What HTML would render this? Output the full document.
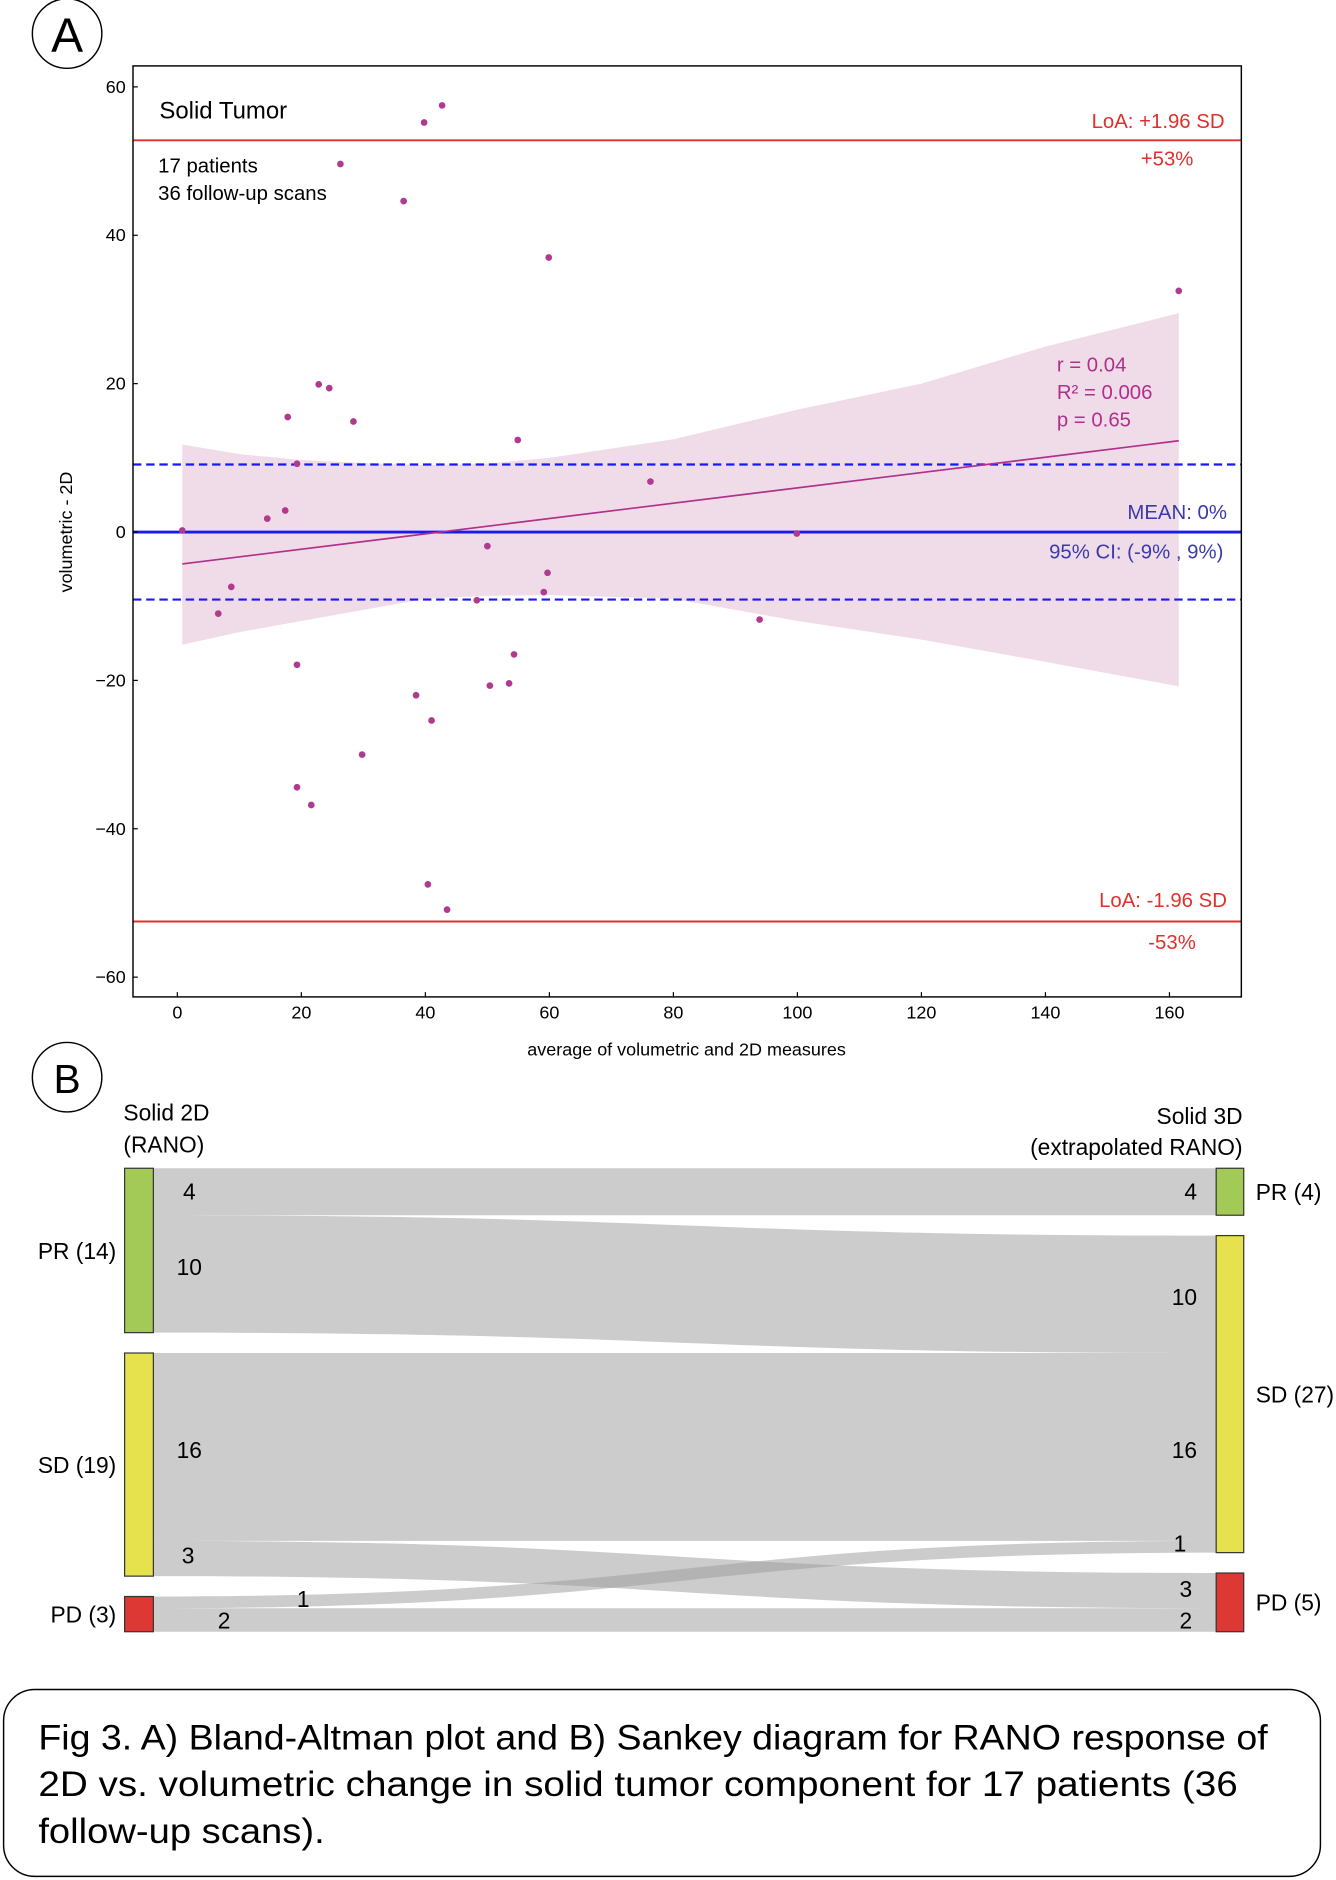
<!DOCTYPE html>
<html><head><meta charset="utf-8"><style>
html,body{margin:0;padding:0;background:#fff}
svg{display:block}
text{font-family:"Liberation Sans","DejaVu Sans",sans-serif}
</style></head><body>
<svg id="fig" width="1336" height="1880" viewBox="0 0 1115 1569" xmlns="http://www.w3.org/2000/svg">
<g><circle cx="56" cy="28" r="29" fill="#fff" stroke="#000" stroke-width="1.2"/><text x="56" y="43" font-size="40" text-anchor="middle">A</text></g>
<g id="plotA"></g>
<g><circle cx="56" cy="899" r="29" fill="#fff" stroke="#000" stroke-width="1.2"/><text x="56" y="912" font-size="34" text-anchor="middle">B</text></g>
<g id="sankey"></g>
<g>
<rect x="3" y="1410" width="1099" height="156" rx="26" fill="#fff" stroke="#000" stroke-width="1.2"/>
<text x="32" y="1460" font-size="29" textLength="1026" lengthAdjust="spacingAndGlyphs">Fig 3. A) Bland-Altman plot and B) Sankey diagram for RANO response of</text>
<text x="32" y="1499" font-size="29" textLength="1001" lengthAdjust="spacingAndGlyphs">2D vs. volumetric change in solid tumor component for 17 patients (36</text>
<text x="32" y="1538" font-size="29" textLength="239" lengthAdjust="spacingAndGlyphs">follow-up scans).</text>
</g>
</svg>
<script>
const ptX=[0.8,6.6,8.7,14.5,17.4,17.8,19.3,19.3,19.3,21.6,22.8,24.5,26.3,28.4,29.8,36.5,38.5,39.8,40.4,41,42.7,43.5,48.3,50,50.4,53.5,54.3,54.9,59.1,59.7,59.9,76.3,93.9,99.9,161.5];
const ptY=[0.2,-11,-7.4,1.8,2.9,15.5,9.2,-17.9,-34.4,-36.8,19.9,19.4,49.6,14.9,-30,44.6,-22,55.2,-47.5,-25.4,57.5,-50.9,-9.2,-1.9,-20.7,-20.4,-16.5,12.4,-8.1,-5.5,37,6.8,-11.8,-0.2,32.5];
const bandX=[0.8,10,20,30,40,50,60,80,100,120,140,161.5];
const bandUp=[11.8,10.5,9.7,9.3,9,9.2,10,12.5,16.5,20,25,29.5];
const bandLo=[-15.2,-13.5,-12,-10.5,-9,-8.6,-8.5,-9,-12,-14.5,-17.5,-20.8];
const fitX=[0.8,161.5];
const fitY=[-4.3,12.3];
const xTicks=[0,20,40,60,80,100,120,140,160];
const yTicks=[60,40,20,0,-20,-40,-60];
const loaUp=52.8, loaLo=-52.5, meanV=0, ciUp=9.1, ciLo=-9.1;

const flowSrc=["PR","PR","SD","SD","PD","PD"];
const flowDst=["PR","SD","SD","PD","SD","PD"];
const flowVal=[4,10,16,3,1,2];
const nodeNames=["PR","SD","PD"];
const leftCounts=[14,19,3];
const rightCounts=[4,27,5];

const NS="http://www.w3.org/2000/svg";
function mk(parent,tag,attrs,txt){const e=document.createElementNS(NS,tag);for(const k in attrs)e.setAttribute(k,attrs[k]);if(txt!==undefined)e.textContent=txt;parent.appendChild(e);return e;}
const X0=111,X1=1036,Y0=55,Y1=832;
const xs=v=>148+v*(828/160);
const ys=v=>444-v*(743/120);
const A=document.getElementById('plotA');
let d="M"+bandX.map((x,i)=>xs(x)+","+ys(bandUp[i])).join(" L");
d+=" L"+bandX.slice().reverse().map((x,i)=>xs(x)+","+ys(bandLo[bandX.length-1-i])).join(" L")+" Z";
let band=mk(A,'path',{d:d,fill:'#f0dce9'});


function hline(v,col,w,dash,name){let l=mk(A,'line',{x1:X0,x2:X1,y1:ys(v),y2:ys(v),stroke:col,'stroke-width':w});if(dash)l.setAttribute('stroke-dasharray',dash);

}
hline(loaUp,'#e0302c',1.6,null,'loa-upper-line');
hline(loaLo,'#e0302c',1.6,null,'loa-lower-line');
hline(ciUp,'#1a1aee',1.8,'7,4','ci-upper-line');
hline(ciLo,'#1a1aee',1.8,'7,4','ci-lower-line');
hline(meanV,'#1a1aee',2.4,null,'mean-line');
let fit=mk(A,'line',{x1:xs(fitX[0]),y1:ys(fitY[0]),x2:xs(fitX[1]),y2:ys(fitY[1]),stroke:'#b0308a','stroke-width':1.4});


ptX.forEach((x,i)=>{let c=mk(A,'circle',{cx:xs(x),cy:ys(ptY[i]),r:2.8,fill:'#b03a90'});

});
mk(A,'rect',{x:X0,y:Y0,width:X1-X0,height:Y1-Y0,fill:'none',stroke:'#000','stroke-width':1.2});
xTicks.forEach(t=>{mk(A,'line',{x1:xs(t),x2:xs(t),y1:Y1,y2:Y1-4,stroke:'#000'});let tx=mk(A,'text',{x:xs(t),y:Y1+18,'font-size':15,'text-anchor':'middle','font-family':'DejaVu Sans'},String(t));

});
yTicks.forEach(t=>{mk(A,'line',{x1:X0,x2:X0+4,y1:ys(t),y2:ys(t),stroke:'#000'});let tx=mk(A,'text',{x:X0-6,y:ys(t)+5,'font-size':15,'text-anchor':'end','font-family':'DejaVu Sans'},t<0?"\u2212"+(-t):String(t));

});
let xt=mk(A,'text',{x:573,y:881,'font-size':15,'text-anchor':'middle','font-family':'DejaVu Sans'},'average of volumetric and 2D measures');


let yt=mk(A,'text',{x:0,y:0,'font-size':15,'text-anchor':'middle','font-family':'DejaVu Sans',transform:'translate(60,444) rotate(-90)'},'volumetric - 2D');


const ann=[[133,99,20,'#000','start','Solid Tumor'],[132,144,17,'#000','start','17 patients'],[132,167,17,'#000','start','36 follow-up scans'],
[1022,107,17,'#e0302c','end','LoA: +1.96 SD'],[996,138,17,'#e0302c','end','+53%'],[1024,757,17,'#e0302c','end','LoA: -1.96 SD'],[998,792,17,'#e0302c','end','-53%'],
[1024,433,17,'#3a3aa8','end','MEAN: 0%'],[1021,466,17,'#3a3aa8','end','95% CI: (-9% , 9%)'],
[882,310,17,'#b0308a','start','r = 0.04'],[882,333,17,'#b0308a','start','R\u00b2 = 0.006'],[882,356,17,'#b0308a','start','p = 0.65']];
ann.forEach(a=>{let t=mk(A,'text',{x:a[0],y:a[1],'font-size':a[2],fill:a[3],'text-anchor':a[4]},a[5]);

});

const S=document.getElementById('sankey');
const unit=9.8,gap=17,topY=975,LX0=104,LX1=128,RX0=1015,RX1=1038;
const colors={PR:'#a3c957',SD:'#e6e24e',PD:'#dd3833'};
function layout(counts){let y=topY;return counts.map(c=>{const o={y:y,h:c*unit};y+=c*unit+gap;return o;});}
const L=layout(leftCounts),R=layout(rightCounts);
const lOff=L.map(n=>n.y),rOff=R.map(n=>n.y);
flowVal.forEach((v,i)=>{const si=nodeNames.indexOf(flowSrc[i]),di=nodeNames.indexOf(flowDst[i]);const h=v*unit;
const ya=lOff[si],yb=rOff[di];lOff[si]+=h;rOff[di]+=h;const mx=(LX1+RX0)/2;
const p=`M${LX1},${ya} C${mx},${ya} ${mx},${yb} ${RX0},${yb} L${RX0},${yb+h} C${mx},${yb+h} ${mx},${ya+h} ${LX1},${ya+h} Z`;
let f=mk(S,'path',{d:p,fill:'#999',opacity:0.5});

});
const lblPosL=[[158,1001],[158,1064],[158,1217],[157,1305],[253,1341],[187,1359]];
const lblPosR=[[999,1001],[999,1089],[999,1217],[995,1333],[990,1295],[995,1359]];
flowVal.forEach((v,i)=>{let a=mk(S,'text',{x:lblPosL[i][0],y:lblPosL[i][1],'font-size':19,'text-anchor':'middle'},String(v));


let b=mk(S,'text',{x:lblPosR[i][0],y:lblPosR[i][1],'font-size':19,'text-anchor':'end'},String(v));

});
nodeNames.forEach((n,i)=>{let a=mk(S,'rect',{x:LX0,y:L[i].y,width:LX1-LX0,height:L[i].h,fill:colors[n],stroke:'#333','stroke-width':1});


let b=mk(S,'rect',{x:RX0,y:R[i].y,width:RX1-RX0,height:R[i].h,fill:colors[n],stroke:'#333','stroke-width':1});


let t1=mk(S,'text',{x:97,y:L[i].y+L[i].h/2+7,'font-size':19,'text-anchor':'end'},n+' ('+leftCounts[i]+')');


let t2=mk(S,'text',{x:1048,y:R[i].y+R[i].h/2+7,'font-size':19,'text-anchor':'start'},n+' ('+rightCounts[i]+')');

});
[[103,935,'start','Solid 2D'],[103,962,'start','(RANO)'],[1037,938,'end','Solid 3D'],[1037,964,'end','(extrapolated RANO)']].forEach(a=>{
let t=mk(S,'text',{x:a[0],y:a[1],'font-size':19,'text-anchor':a[2]},a[3]);

});
</script>
</body></html>
